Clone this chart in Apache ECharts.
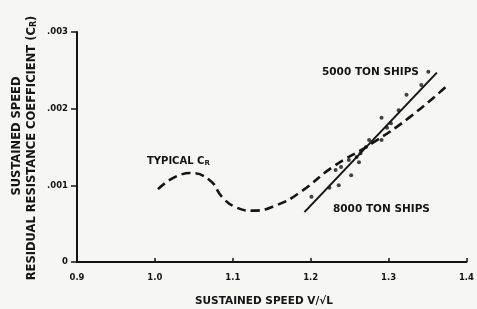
<!DOCTYPE html>
<html><head><meta charset="utf-8">
<script src="https://cdn.jsdelivr.net/npm/echarts@6/dist/echarts.min.js"></script>
<style>html,body{margin:0;padding:0;background:#f6f6f2;}#c{width:477px;height:309px;}</style>
</head><body><div id="c"></div>
<script>
// Data
const xTicks = [0.9, 1.0, 1.1, 1.2, 1.3, 1.4];
const xTickLabels = ['0.9', '1.0', '1.1', '1.2', '1.3', '1.4'];
const yTickLabels = ['0', '.001', '.002', '.003'];
const typicalX = [1.004, 1.045, 1.070, 1.087, 1.105, 1.125, 1.156, 1.188, 1.227, 1.279, 1.326, 1.373];
const typicalY = [0.00095, 0.00116, 0.00107, 0.00084, 0.00071, 0.00067, 0.00074, 0.00092, 0.00123, 0.00155, 0.00188, 0.00228];
const fitX = [1.192, 1.362];
const fitY = [0.00065, 0.00247];
const shipX = [1.351, 1.342, 1.323, 1.313, 1.291, 1.303, 1.298, 1.291, 1.275, 1.271, 1.264, 1.259, 1.262, 1.249, 1.239, 1.232, 1.252, 1.236, 1.224, 1.201];
const shipY = [0.00248, 0.00231, 0.00218, 0.00198, 0.00188, 0.00181, 0.00175, 0.00159, 0.00159, 0.00150, 0.00142, 0.00137, 0.00130, 0.00133, 0.00124, 0.00120, 0.00113, 0.00100, 0.00097, 0.00085];

const zip = (a, b) => a.map((v, i) => [v, b[i]]);
const FONT = 'DejaVu Sans';
const INK = '#141414';
const chart = echarts.init(document.getElementById('c'), null, {renderer: 'canvas'});
chart.setOption({
  backgroundColor: '#f6f6f2',
  animation: false,
  grid: {left: 77, right: 9, top: 32, bottom: 47},
  xAxis: {
    type: 'value', min: 0.9, max: 1.4, interval: 0.1,
    axisLine: {lineStyle: {color: INK, width: 2}},
    axisTick: {inside: true, length: 4, lineStyle: {color: INK, width: 1.5}},
    splitLine: {show: false},
    axisLabel: {color: INK, fontFamily: FONT, fontWeight: 'bold', fontSize: 8.5, margin: 11,
      formatter: v => xTickLabels[xTicks.findIndex(t => Math.abs(t - v) < 1e-6)] || ''}
  },
  yAxis: {
    type: 'value', min: 0, max: 0.003, interval: 0.001,
    axisLine: {lineStyle: {color: INK, width: 2}},
    axisTick: {length: 6, lineStyle: {color: INK, width: 1.5}},
    splitLine: {show: false},
    axisLabel: {color: INK, fontFamily: FONT, fontWeight: 'bold', fontSize: 8.5, margin: 9,
      formatter: v => yTickLabels[Math.round(v / 0.001)]}
  },
  series: [
    {type: 'line', data: zip(typicalX, typicalY), smooth: 0.5, showSymbol: false,
     lineStyle: {color: INK, width: 2.6, type: [9, 5]}},
    {type: 'line', data: zip(fitX, fitY), showSymbol: false,
     lineStyle: {color: INK, width: 2}},
    {type: 'scatter', data: zip(shipX, shipY), symbolSize: 4,
     itemStyle: {color: INK}}
  ],
  graphic: [
    {type: 'text', x: 17, y: 136, rotation: Math.PI / 2,
     style: {text: 'SUSTAINED SPEED', fill: INK, font: 'bold 11.5px ' + FONT, align: 'center', verticalAlign: 'middle'}},
    {type: 'text', x: 32, y: 148, rotation: Math.PI / 2,
     style: {text: 'RESIDUAL RESISTANCE COEFFICIENT (C{s|R})', fill: INK, font: 'bold 11.5px ' + FONT, align: 'center', verticalAlign: 'middle',
       rich: {s: {fontSize: 8, fontWeight: 'bold', fontFamily: FONT, fill: INK, padding: [4, 0, 0, 0]}}}},
    {type: 'text', x: 264, y: 301,
     style: {text: 'SUSTAINED SPEED V/√L', fill: INK, font: 'bold 10.5px ' + FONT, align: 'center', verticalAlign: 'middle'}},
    {type: 'text', x: 147, y: 161,
     style: {text: 'TYPICAL C{s|R}', fill: INK, font: 'bold 10px ' + FONT, align: 'left', verticalAlign: 'middle',
       rich: {s: {fontSize: 7, fontWeight: 'bold', fontFamily: FONT, fill: INK, padding: [5, 0, 0, 0]}}}},
    {type: 'text', x: 322, y: 72,
     style: {text: '5000 TON SHIPS', fill: INK, font: 'bold 10.5px ' + FONT, align: 'left', verticalAlign: 'middle'}},
    {type: 'text', x: 333, y: 209,
     style: {text: '8000 TON SHIPS', fill: INK, font: 'bold 10.5px ' + FONT, align: 'left', verticalAlign: 'middle'}}
  ]
});
</script></body></html>
